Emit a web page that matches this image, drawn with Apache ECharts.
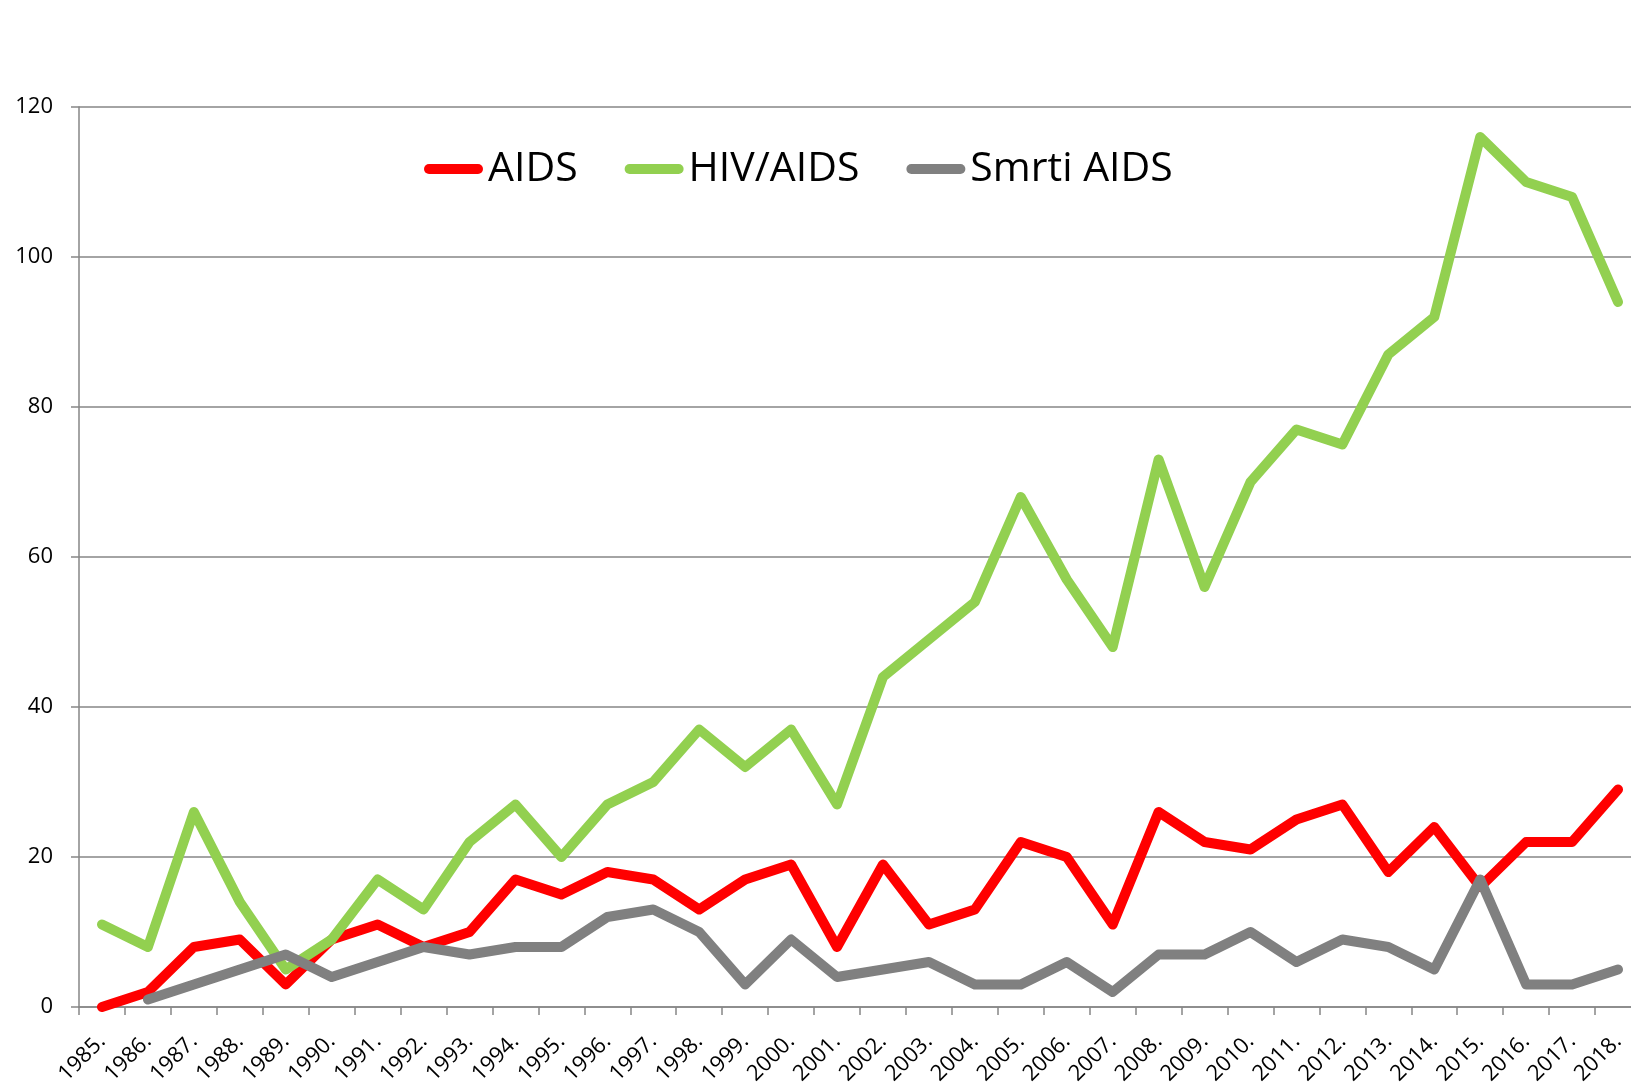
<!DOCTYPE html>
<html>
<head>
<meta charset="utf-8">
<script src="https://cdn.jsdelivr.net/npm/echarts@6/dist/echarts.min.js"></script>
<style>
  body{margin:0;background:#fff;}
  #main{width:1631px;height:1087px;}
</style>
</head>
<body>
<div id="main"></div>
<script>
// godine
var years=['1985.','1986.','1987.','1988.','1989.','1990.','1991.','1992.','1993.','1994.',
  '1995.','1996.','1997.','1998.','1999.','2000.','2001.','2002.','2003.','2004.',
  '2005.','2006.','2007.','2008.','2009.','2010.','2011.','2012.','2013.','2014.',
  '2015.','2016.','2017.','2018.'];
var aids=[0,2,8,9,3,9,11,8,10,17,15,18,17,13,17,19,8,19,11,13,22,20,11,26,22,21,25,27,18,24,16,22,22,29];
var hivAids=[11,8,26,14,5,9,17,13,22,27,20,27,30,37,32,37,27,44,49,54,68,57,48,73,56,70,77,75,87,92,116,110,108,94];
var smrti=[null,1,3,5,7,4,6,8,7,8,8,12,13,10,3,9,4,5,6,3,3,6,2,7,7,10,6,9,8,5,17,3,3,5];
var yTicks=[0,20,40,60,80,100,120];

var chart=echarts.init(document.getElementById('main'));
var gray='#868686';
var font='"Open Sans", "Noto Sans", sans-serif';

function lineSeries(name,data,color){
  return {
    name:name,
    type:'line',
    data:data,
    symbol:'none',
    connectNulls:false,
    color:color,
    lineStyle:{width:10,color:color,cap:'round',join:'round'},
    emphasis:{disabled:true}
  };
}

var option={
  animation:false,
  backgroundColor:'#fff',
  textStyle:{fontFamily:font},
  // plot runs a bit past the right edge, like the original
  grid:{left:79,top:107,width:1562,height:900,outerBoundsMode:'none',containLabel:false},
  legend:{
    left:424,
    top:148,
    padding:0,
    itemWidth:59,
    itemHeight:10,
    itemGap:47,
    icon:'path://M5,0H54A5,5,0,0,1,54,10H5A5,5,0,0,1,5,0Z',
    textStyle:{fontSize:41,color:'#000',fontFamily:font,lineHeight:42},
    data:['AIDS','HIV/AIDS','Smrti AIDS']
  },
  xAxis:{
    type:'category',
    data:years,
    boundaryGap:true,
    axisLine:{lineStyle:{color:gray,width:1.5}},
    axisTick:{show:true,length:8,lineStyle:{color:gray,width:1.5}},
    axisLabel:{rotate:45,interval:0,fontSize:22,color:'#000',margin:31,fontFamily:font}
  },
  yAxis:{
    type:'value',
    min:yTicks[0],
    max:yTicks[yTicks.length-1],
    interval:yTicks[1]-yTicks[0],
    axisLine:{show:true,lineStyle:{color:gray,width:1.5}},
    axisTick:{show:true,length:8,lineStyle:{color:gray,width:1.5}},
    splitLine:{lineStyle:{color:gray,width:1.5}},
    axisLabel:{fontSize:22,color:'#000',margin:26,fontFamily:font}
  },
  series:[
    lineSeries('AIDS',aids,'#ff0000'),
    lineSeries('HIV/AIDS',hivAids,'#92d050'),
    lineSeries('Smrti AIDS',smrti,'#808080')
  ]
};
chart.setOption(option);
</script>
</body>
</html>
